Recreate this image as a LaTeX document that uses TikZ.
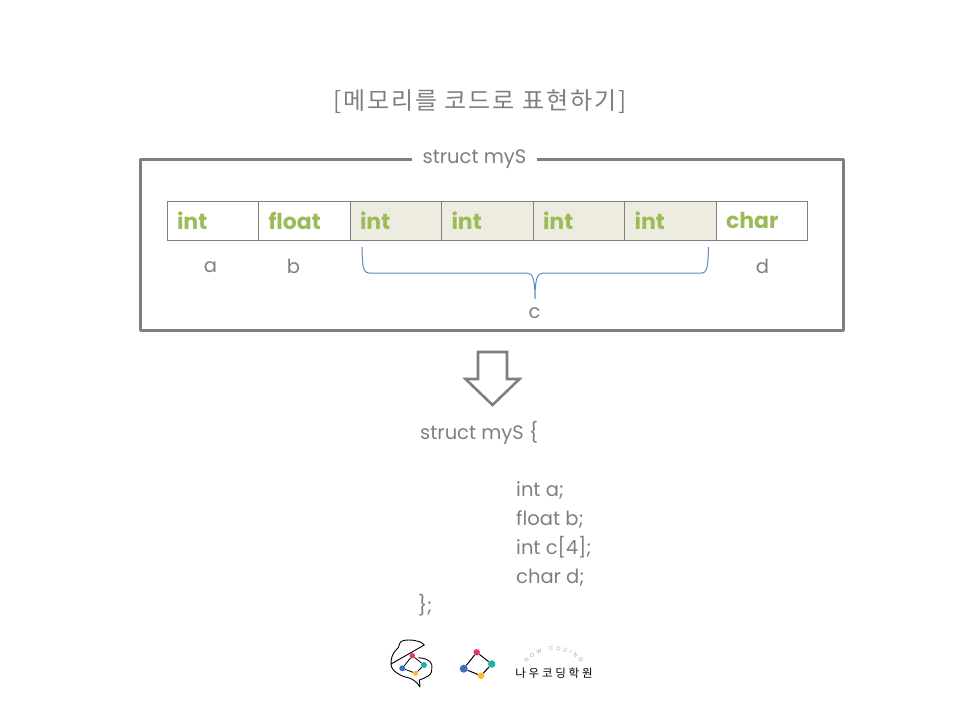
\documentclass[tikz,border=0pt]{standalone}
\usepackage{fontspec}
\setmainfont{Poppins}
\newfontfamily\krfont[LetterSpace=8]{Noto Sans CJK KR}
\newfontfamily\krlogo[LetterSpace=24]{Noto Sans CJK KR}
\usetikzlibrary{positioning, decorations.text}
\definecolor{txtgray}{HTML}{7F7F7F}
\definecolor{cellgreen}{HTML}{9BBB59}
\definecolor{cellfill}{HTML}{EEECE1}
\definecolor{bracecol}{HTML}{5B88C4}
\definecolor{dotred}{HTML}{E23864}
\definecolor{dotteal}{HTML}{20B2A0}
\definecolor{dotyellow}{HTML}{FABE1E}
\definecolor{dotblue}{HTML}{3A70BE}
\tikzset{
	cell/.style={draw=txtgray, line width=0.9pt, minimum width=91.5pt, minimum height=39pt, inner sep=0pt, outer sep=0pt, anchor=west, text=cellgreen, font=\fontsize{22}{26}\selectfont\bfseries, align=left, text width=71.5pt},
	arrcell/.style={cell, fill=cellfill},
	lbl/.style={text=txtgray, font=\fontsize{19.5}{23}\selectfont, inner sep=0pt},
	codeline/.style={lbl, anchor=base west},
	dot/.style={circle, draw=none, inner sep=0pt},
	logoline/.style={draw=black, line width=1pt},
	baseline}

\begin{document}
\begin{tikzpicture}[x=1pt, y=-1pt]
	\useasboundingbox (0,0) rectangle (960,720);
	\node[text=txtgray, font=\fontsize{24}{28}\selectfont\krfont, inner sep=0pt] (title) at (480,101.5) {[메모리를 코드로 표현하기]};
	
	\draw[draw=txtgray, line width=3pt, line join=round] (140,159.5) rectangle (843,330);
	\node[lbl, fill=white, minimum width=125pt, minimum height=24pt] (frametitle) at (474.5,159) {struct myS};
	
	\node[cell] (m1) at (167,220.5) {int};
	\node[cell, right=0pt of m1] (m2) {float};
	\node[arrcell, right=0pt of m2] (m3) {int};
	\node[arrcell, right=0pt of m3] (m4) {int};
	\node[arrcell, right=0pt of m4] (m5) {int};
	\node[arrcell, right=0pt of m5] (m6) {int};
	\node[cell, right=0pt of m6] (m7) {char};
	
	\node[lbl] (la) at (210.5,267) {a};
	\node[lbl] (lb) at (293.5,266) {b};
	\node[lbl] (lc) at (534.5,313) {c};
	\node[lbl] (ld) at (762.5,266) {d};
	
	\coordinate (bl) at (362,247);
	\coordinate (br) at (708.5,247);
	\coordinate (bt) at (535,299);
	\draw[bracecol, line width=1pt]
	(bl) .. controls (362.5,262) and (362,273) .. (369,273) -- (527,273)
	.. controls (533,273) and (535,280) .. (bt)
	.. controls (535,280) and (537,273) .. (543,273) -- (702,273)
	.. controls (708,273) and (708,262) .. (br);
	
	\draw[draw=txtgray, fill=white, line width=2.6pt, miter limit=10]
	(478,352) -- (507,352) -- (507,379) -- (519.5,379) -- (492.5,405) -- (465.5,379) -- (478,379) -- cycle;
	
	\node[codeline] (head) at (420,439) {struct myS \{};
	\node[codeline] (f1) at (516,496) {int a;};
	\node[codeline] (f2) at (516,525) {float b;};
	\node[codeline] (f3) at (516,554) {int c[4];};
	\node[codeline] (f4) at (516,583) {char d;};
	\node[codeline] (tail) at (418,612) {\};};
	
	\draw[black, line width=0.9pt, line join=round]
	(424.3,645) .. controls (421,642) and (419,641) .. (416.7,641)
	.. controls (413,640) and (411,640) .. (408.3,640)
	.. controls (404,640) and (400,641) .. (399.5,644)
	.. controls (399.5,647) and (398,648) .. (396,650)
	.. controls (392,654) and (391,659) .. (391,664)
	-- cycle;
	\draw[black, line width=0.9pt, line join=round]
	(391,664) .. controls (391,668) and (394,671) .. (397,673)
	.. controls (400,675) and (404,677) .. (408.3,677.7)
	.. controls (413,679) and (417,682) .. (420,687)
	.. controls (420,684) and (419.5,682) .. (419.3,680)
	.. controls (422,679) and (425,678) .. (426.7,676.7)
	.. controls (429,676) and (432,673) .. (431.7,670)
	.. controls (432,665) and (432,663) .. (430,661.7)
	.. controls (427,659) and (423,658) .. (418.3,657.7);
	\node[dot, fill=dotred, minimum size=5.5pt] (r1) at (412.3,655.7) {};
	\node[dot, fill=dotteal, minimum size=6pt] (t1) at (424,665) {};
	\node[dot, fill=dotyellow, minimum size=5pt] (y1) at (415.7,673.3) {};
	\node[dot, fill=dotblue, minimum size=6pt] (b1) at (402.3,668.3) {};
	\draw[logoline, line width=0.8pt] (r1) -- (t1) -- (y1) -- (b1) -- (r1);
	
	\node[dot, fill=dotred, minimum size=6.5pt] (r2) at (476.7,652.3) {};
	\node[dot, fill=dotteal, minimum size=7.5pt] (t2) at (491.7,664) {};
	\node[dot, fill=dotyellow, minimum size=6.5pt] (y2) at (481,675.7) {};
	\node[dot, fill=dotblue, minimum size=8pt] (b2) at (463.7,668.7) {};
	\draw[logoline] (r2) -- (t2) -- (y2) -- (b2) -- (r2);
	
	\node[inner sep=0pt, font=\fontsize{11.5}{13}\selectfont\krlogo] (logotxt) at (554,673) {나우코딩학원};
	\coordinate (arcl) at (527,663);
	\coordinate (arcr) at (581,663);
	\path[decorate, decoration={text along path, text align={fit to path}, text={|\fontsize{5.5}{7}\selectfont\color{txtgray!70}|NOW CODING}}]
	(arcl) .. controls (540,646) and (566,646) .. (arcr);
\end{tikzpicture}
\end{document}
